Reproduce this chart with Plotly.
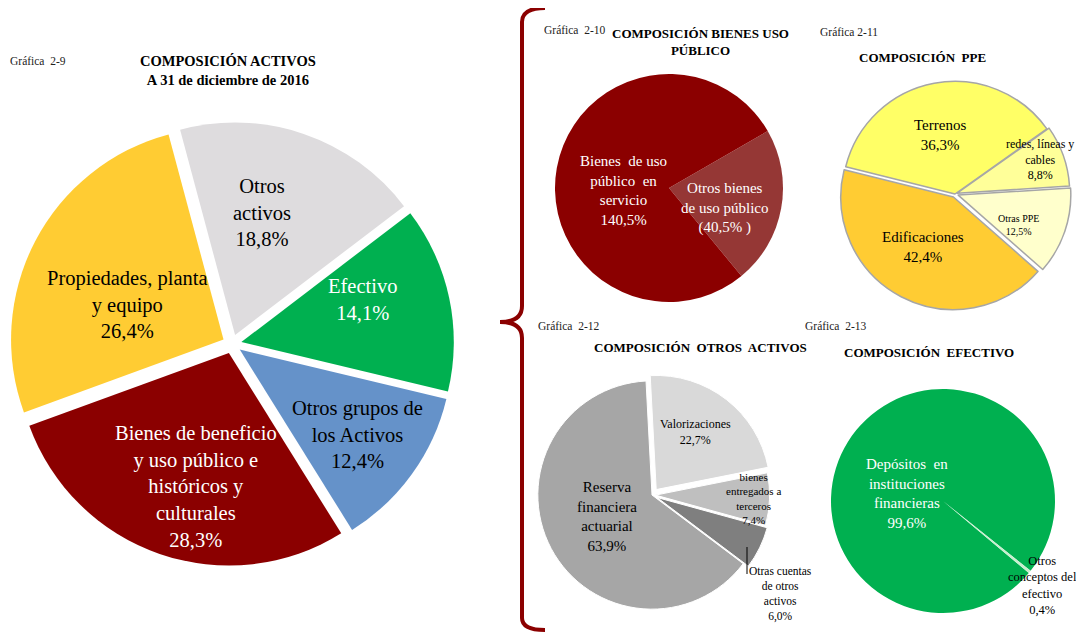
import plotly.graph_objects as go

W, H = 1084, 635
OFF = 8  # the page body adds an 8px margin, so positions are shifted back by it

# Gráfica 2-9
activos_labels = ["Otros<br>activos", "Efectivo", "Otros grupos de<br>los Activos",
                  "Bienes de beneficio<br>y uso público e<br>históricos y<br>culturales",
                  "Propiedades, planta<br>y equipo"]
activos_values = [18.8, 14.1, 12.4, 28.3, 26.4]

# Gráfica 2-10
bienes_labels = ["Otros bienes<br>de uso público", "Bienes  de uso<br>público  en<br>servicio"]
bienes_values = [40.5, 140.5]
bienes_pct = ["(40,5% )", "140,5%"]

# Gráfica 2-11
ppe_labels = ["Terrenos", "redes, líneas y<br>cables", "Otras PPE", "Edificaciones"]
ppe_values = [36.3, 8.8, 12.5, 42.4]

# Gráfica 2-12
otros_labels = ["Valorizaciones", "bienes<br>entregados a<br>terceros",
                "Otras cuentas<br>de otros<br>activos", "Reserva<br>financiera<br>actuarial"]
otros_values = [22.7, 7.4, 6.0, 63.9]

# Gráfica 2-13
efectivo_labels = ["Depósitos  en<br>instituciones<br>financieras", "Otros<br>conceptos del<br>efectivo"]
efectivo_values = [99.6, 0.4]


def pct(v):
    return f"{v:.1f}%".replace(".", ",")


def px(x, y):
    return (x - OFF) / W, 1 - (y - OFF) / H


def dom(cx, cy, half):
    x0, y1 = px(cx - half, cy - half)
    x1, y0 = px(cx + half, cy + half)
    return dict(x=[x0, x1], y=[y0, y1])


SERIF = "Liberation Serif"

fig = go.Figure()

fig.add_trace(go.Pie(
    values=activos_values, labels=activos_labels, sort=False, direction="clockwise",
    rotation=-15, textinfo="none", pull=0.045,
    marker=dict(colors=["#DEDCDE", "#00B050", "#6592C9", "#8B0000", "#FFCC33"],
                line=dict(width=0)),
    domain=dom(232, 344, 222)))

fig.add_trace(go.Pie(
    values=bienes_values, labels=["Otros bienes", "Bienes en servicio"], sort=False,
    direction="clockwise", rotation=60, textinfo="none",
    marker=dict(colors=["#953735", "#8B0000"], line=dict(width=0)),
    domain=dom(669, 188, 114)))

fig.add_trace(go.Pie(
    values=ppe_values, labels=ppe_labels, sort=False, direction="clockwise",
    rotation=-76, textinfo="none", pull=[0, 0.02, 0.03, 0.03],
    marker=dict(colors=["#FFFF66", "#FFFF99", "#FFFFCC", "#FFCC33"],
                line=dict(width=1.5, color="#A6A6A6")),
    domain=dom(955, 194, 116)))

fig.add_trace(go.Pie(
    values=otros_values, labels=otros_labels, sort=False, direction="clockwise",
    rotation=-3, textinfo="none", pull=[0.06, 0.03, 0.05, 0],
    marker=dict(colors=["#D9D9D9", "#BFBFBF", "#7F7F7F", "#A6A6A6"],
                line=dict(width=1, color="#FFFFFF")),
    domain=dom(652, 495, 121)))

fig.add_trace(go.Pie(
    values=efectivo_values, labels=efectivo_labels, sort=False, direction="clockwise",
    rotation=130, textinfo="none",
    marker=dict(colors=["#00B050", "#C6EFCE"], line=dict(width=0)),
    domain=dom(943, 501, 112)))

ann = []


def label(text, x, y, size, color="black", bold=False):
    ax, ay = px(x, y)
    ann.append(dict(text=f"<b>{text}</b>" if bold else text, x=ax, y=ay,
                    xref="paper", yref="paper", showarrow=False, xanchor="center",
                    yanchor="middle", font=dict(family=SERIF, size=size, color=color)))


def note(text, x, y):
    ax, ay = px(x, y)
    ann.append(dict(text=text, x=ax, y=ay, xref="paper", yref="paper",
                    showarrow=False, xanchor="left", yanchor="middle",
                    font=dict(family=SERIF, size=11.5, color="#222222")))


# main pie labels
main_pos = [(262, 212), (362, 300), (357, 434), (196, 486), (127, 304)]
main_col = ["black", "white", "black", "white", "black"]
for lab, v, (x, y), c in zip(activos_labels, activos_values, main_pos, main_col):
    label(f"{lab}<br>{pct(v)}", x, y, 20.5, c)

for lab, p, (x, y) in zip(bienes_labels, bienes_pct, [(725, 208), (623, 190)]):
    label(f"{lab}<br>{p}", x, y, 15, "white")

ppe_pos = [(940, 135), (1040, 159), (1018, 225), (923, 247)]
ppe_size = [15, 12, 10, 15]
for lab, v, (x, y), s in zip(ppe_labels, ppe_values, ppe_pos, ppe_size):
    label(f"{lab}<br>{pct(v)}", x, y, s)

otros_pos = [(695, 432), (753, 498), (780, 594), (607, 516)]
otros_size = [12, 11, 11.5, 15]
for lab, v, (x, y), s in zip(otros_labels, otros_values, otros_pos, otros_size):
    label(f"{lab}<br>{pct(v)}", x, y, s)

label(f"{efectivo_labels[0]}<br>{pct(efectivo_values[0])}", 907, 493, 15, "white")
label(f"{efectivo_labels[1]}<br>{pct(efectivo_values[1])}", 1042, 585, 12.5)

# titles
note("Gráfica  2-9", 8, 61)
label("COMPOSICIÓN ACTIVOS<br>A 31 de diciembre de 2016", 228, 71, 14.5, bold=True)
note("Gráfica  2-10", 542, 30)
label("COMPOSICIÓN BIENES USO<br>PÚBLICO", 700, 42, 13, bold=True)
note("Gráfica 2-11", 818, 32)
label("COMPOSICIÓN  PPE", 922, 57, 13, bold=True)
note("Gráfica  2-12", 536, 326)
label("COMPOSICIÓN  OTROS  ACTIVOS", 701, 347, 13, bold=True)
note("Gráfica  2-13", 803, 326)
label("COMPOSICIÓN  EFECTIVO", 929, 352, 13, bold=True)

# brace and leader
pts = [(545, 8), (522, 8), (522, 22), (522, 306), (522, 322), (500, 322), (522, 322),
       (522, 338), (522, 618), (522, 630), (545, 630)]
p = [px(*q) for q in pts]
path = (f"M {p[0][0]} {p[0][1]} Q {p[1][0]} {p[1][1]} {p[2][0]} {p[2][1]} "
        f"L {p[3][0]} {p[3][1]} Q {p[4][0]} {p[4][1]} {p[5][0]} {p[5][1]} "
        f"Q {p[6][0]} {p[6][1]} {p[7][0]} {p[7][1]} L {p[8][0]} {p[8][1]} "
        f"Q {p[9][0]} {p[9][1]} {p[10][0]} {p[10][1]}")
a, b = px(747, 547), px(747, 574)
shapes = [
    dict(type="path", path=path, xref="paper", yref="paper",
         line=dict(color="#8B0000", width=4)),
    dict(type="line", x0=a[0], y0=a[1], x1=b[0], y1=b[1], xref="paper", yref="paper",
         line=dict(color="black", width=1)),
]

fig.update_layout(
    width=W, height=H, margin=dict(l=0, r=0, t=0, b=0),
    paper_bgcolor="white", plot_bgcolor="white", showlegend=False,
    annotations=ann, shapes=shapes,
    font=dict(family=SERIF),
)

fig.write_html("out.html")
